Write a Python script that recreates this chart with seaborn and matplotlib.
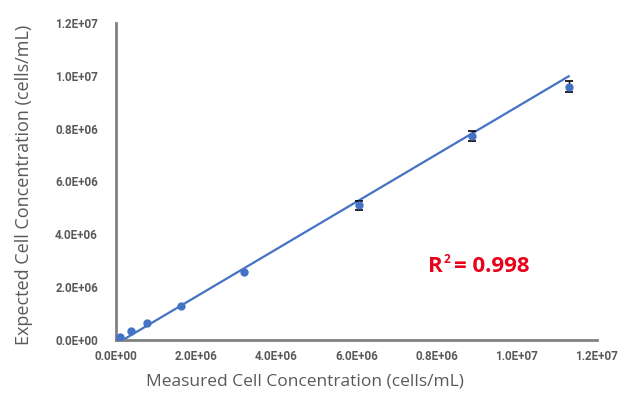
import numpy as np
import pandas as pd
import matplotlib
matplotlib.use("Agg")
import matplotlib.pyplot as plt
import seaborn as sns
from matplotlib.font_manager import FontProperties

# Measured vs expected cell concentration (cells/mL)
measured = [0.10e6, 0.37e6, 0.77e6, 1.62e6, 3.19e6, 6.06e6, 8.88e6, 11.30e6]
expected = [0.11e6, 0.34e6, 0.64e6, 1.29e6, 2.58e6, 5.11e6, 7.73e6, 9.58e6]
expected_err = [0.0, 0.0, 0.0, 0.0, 0.0, 0.17e6, 0.19e6, 0.21e6]

# Linear trendline
trend_slope = 0.8975
trend_intercept = -0.153e6
r_squared = 0.998

tick_values = [0, 2e6, 4e6, 6e6, 8e6, 10e6, 12e6]
tick_labels = ["0.0E+00", "2.0E+06", "4.0E+06", "6.0E+06", "0.8E+06", "1.0E+07", "1.2E+07"]

sns.set_theme(style="white")
plt.rcParams["font.family"] = ["Open Sans", "DejaVu Sans"]

df = pd.DataFrame({"measured": measured, "expected": expected, "err": expected_err})

W, H = 625, 404
fig = plt.figure(figsize=(W / 100, H / 100), dpi=100)
ax = fig.add_axes([116 / W, 1 - 340 / H, (597 - 116) / W, (340 - 23) / H])

blue = "#4472C4"

# trendline across the measured range
x_line = np.array([0.17e6, max(measured)])
y_line = trend_slope * x_line + trend_intercept
sns.lineplot(x=x_line, y=y_line, ax=ax, color=blue, linewidth=1.6)

# error bars (only where present)
has_err = df[df["err"] > 0]
ax.errorbar(has_err["measured"], has_err["expected"], yerr=has_err["err"],
            fmt="none", ecolor="black", elinewidth=1.0, capsize=3, capthick=1.2, zorder=3)

sns.scatterplot(data=df, x="measured", y="expected", ax=ax, color=blue,
                s=36, edgecolor=blue, linewidth=0, zorder=4)

ax.set_xlim(0, 12e6)
ax.set_ylim(0, 12e6)
ax.set_xticks(tick_values)
ax.set_xticklabels(tick_labels)
ax.set_yticks(tick_values)
ax.set_yticklabels(tick_labels)
tick_font = FontProperties(family=["Roboto", "DejaVu Sans"], weight="bold", size=8.4)
for lab in ax.get_xticklabels() + ax.get_yticklabels():
    lab.set_fontproperties(tick_font)
    lab.set_color("#595959")
ax.tick_params(axis="x", length=0, pad=7)
ax.tick_params(axis="y", length=0, pad=13)

for side in ["top", "right"]:
    ax.spines[side].set_visible(False)
for side in ["left", "bottom"]:
    ax.spines[side].set_color("#808080")
    ax.spines[side].set_linewidth(2)

ax.set_xlabel("")
ax.set_ylabel("")
fig.text(305 / W, 1 - 381 / H, "Measured Cell Concentration (cells/mL)",
         ha="center", va="center", fontsize=12.5, color="#595959")
fig.text(24 / W, 1 - 185 / H, "Expected Cell Concentration (cells/mL)",
         ha="center", va="center", rotation=90, fontsize=13, color="#595959")

# R² annotation with a small superscript
red = "#E8001C"
renderer = fig.canvas.get_renderer()
x0, base = 428, 1 - 272 / H
t_r = fig.text(x0 / W, base, "R", ha="left", va="baseline",
               fontsize=16, fontweight="bold", color=red)
r_w = t_r.get_window_extent(renderer).width
fig.text((x0 + r_w + 0.5) / W, 1 - 263 / H, "2", ha="left", va="baseline",
         fontsize=8.5, fontweight="bold", color=red)
fig.text((x0 + r_w + 11) / W, base, f"= {r_squared:.3f}", ha="left", va="baseline",
         fontsize=16, fontweight="bold", color=red)

fig.savefig("out.png", dpi=100)
